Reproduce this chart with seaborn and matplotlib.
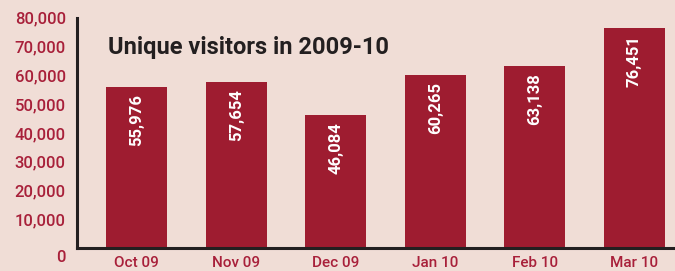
import matplotlib
matplotlib.use("Agg")
import matplotlib.pyplot as plt
import seaborn as sns
import pandas as pd

months = ["Oct 09", "Nov 09", "Dec 09", "Jan 10", "Feb 10", "Mar 10"]
visitors = [55976, 57654, 46084, 60265, 63138, 76451]
yticks = [10000, 20000, 30000, 40000, 50000, 60000, 70000, 80000]

bg = "#f0ddd6"
bar_col = "#9e1c30"
lab_col = "#a8203a"
ink = "#231f20"

sns.set_style("white")
plt.rcParams["font.family"] = ["Roboto", "DejaVu Sans"]

df = pd.DataFrame({"month": months, "visitors": visitors})

fig = plt.figure(figsize=(6.75, 2.71), dpi=100, facecolor=bg)
ax = fig.add_axes([0.114, 0.085, 0.886, 0.849])
ax.set_facecolor(bg)

sns.barplot(data=df, x="month", y="visitors", color=bar_col, width=0.61,
            saturation=1, linewidth=0, ax=ax)

ax.set_xlim(-0.6, 5.41)
ax.set_ylim(0, 80000)
ax.set_yticks(yticks)
ax.set_yticklabels([f"{t:,}" for t in yticks])
ax.set_xlabel("")
ax.set_ylabel("")

for s in ["top", "right"]:
    ax.spines[s].set_visible(False)
for s in ["left", "bottom"]:
    ax.spines[s].set_color(ink)
    ax.spines[s].set_linewidth(2.2)

ax.tick_params(axis="y", direction="in", length=5, width=1.6, color=ink,
               labelcolor=lab_col, labelsize=12, pad=8)
ax.tick_params(axis="x", length=0, labelcolor=lab_col, labelsize=11, pad=6)
for lab in ax.get_xticklabels() + ax.get_yticklabels():
    lab.set_fontweight("medium")

# the zero label sits a little below the axis line
ax.annotate("0", xy=(0, 0), xycoords=("axes fraction", "data"),
            xytext=(-8.5, -7), textcoords="offset points",
            ha="right", va="center", color=lab_col, fontsize=12,
            fontweight="medium")

for i, v in enumerate(visitors):
    ax.annotate(f"{v:,}", xy=(i, v), xytext=(0, -5), textcoords="offset points",
                rotation=90, ha="center", va="top", color="white",
                fontsize=12, fontweight="bold")

ax.text(0.052, 0.87, "Unique visitors in 2009-10", transform=ax.transAxes,
        ha="left", va="center", fontsize=17, fontweight="bold", color=ink)

fig.savefig("out.png", dpi=100, facecolor=bg)
